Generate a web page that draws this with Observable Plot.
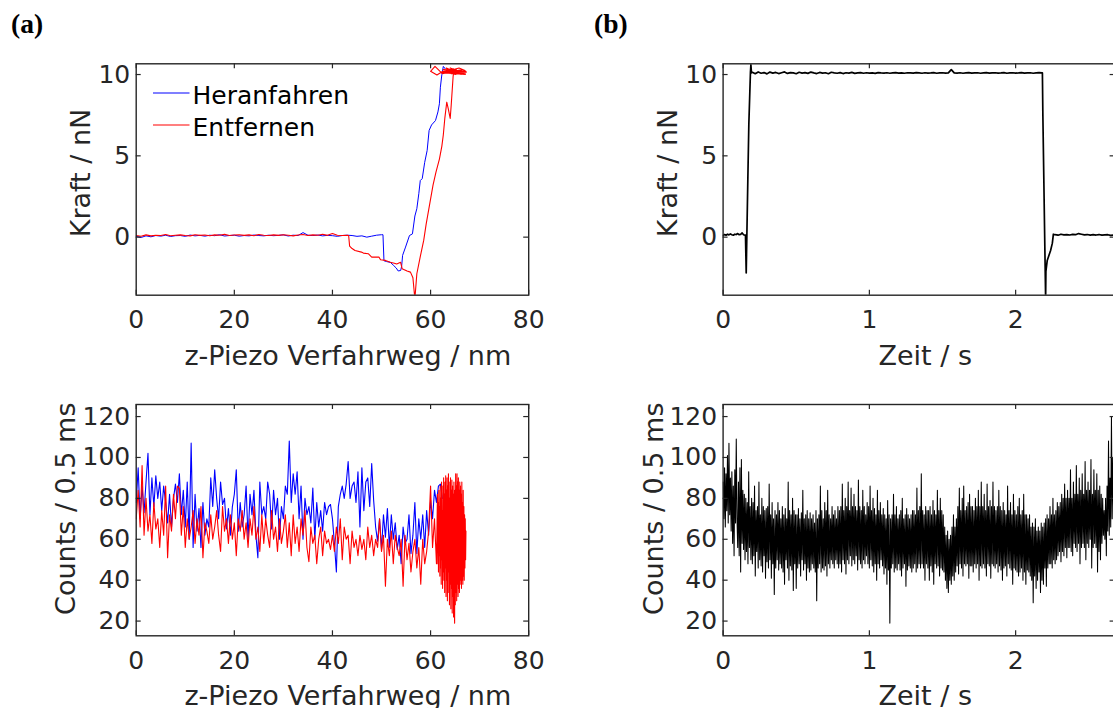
<!DOCTYPE html>
<html>
<head>
<meta charset="utf-8">
<script src="https://cdn.jsdelivr.net/npm/d3@7"></script>
<script src="https://cdn.jsdelivr.net/npm/@observablehq/plot@0.6"></script>
<style>
html, body { margin: 0; padding: 0; background: #fff; }
#fig { position: relative; width: 1113px; height: 708px; overflow: hidden; background: #fff; }
#fig svg { position: absolute; overflow: visible; }
</style>
</head>
<body>
<div id="fig"></div>
<script>
// ---------------- data ----------------
// tick values
const zTicks = [0, 20, 40, 60, 80];
const tTicks = [0, 1, 2];
const forceTicks = [0, 5, 10];
const countTicks = [20, 40, 60, 80, 100, 120];

// (a) top: force vs z-piezo — approach (blue): flat part at 1 nm steps from 0 nm
const approachFlatF = [0.05,-0.02,0.08,0.02,0.1,0.06,0.12,0.04,0.09,0.1,0.05,0.13,0.08,0.11,0.06,0.12,0.09,0.15,0.07,0.1,0.12,0.06,0.1,0.08,0.13,0.1,0.08,0.12,0.09,0.11,0.14,0.07,0.12,0.1,0.28,0.12,0.1,0.13,0.08,0.11,0.09,0.05,0.1,0.12,0.1,0.05,0.08,0.0,0.06,0.12,0.15];
const approachZ = [50.3,50.5,51.0,51.8,52.5,53.0,53.4,53.9,54.1,54.3,54.9,55.7,56.3,56.8,57.2,57.6,57.9,58.3,58.8,59.3,59.7,60.2,61.0,61.5,61.8,62.0,62.3,62.6,63.0];
const approachF = [0.15,-1.45,-1.5,-1.55,-1.75,-1.9,-2.08,-2.05,-1.8,-1.12,-0.61,0.1,0.2,1.3,1.75,2.67,3.48,3.6,4.6,5.33,6.56,6.9,7.17,7.7,8.2,9.22,10.0,10.5,10.35];

// retract (red): flat part at 1 nm steps from 0 nm
const retractFlatF = [0.1,0.06,0.14,0.08,0.12,0.1,0.16,0.09,0.12,0.14,0.1,0.08,0.15,0.11,0.13,0.09,0.14,0.12,0.17,0.1,0.13,0.15,0.11,0.14,0.09,0.16,0.12,0.1,0.14,0.11,0.15,0.12,0.08,0.13,0.16,0.1,0.14,0.12,0.18,0.11,0.22,0.12,0.1,0.12];
const retractZ = [43.3,43.5,44.0,44.6,45.9,46.3,47.3,48.0,49.5,49.8,50.8,51.8,52.6,53.1,53.9,54.2,55.2,55.9,56.4,56.8,57.2,57.9,58.6,59.1,59.8,60.5,61.1,61.8,62.3,62.6,62.9,63.3,63.6,64.0,64.2,64.6];
const retractF = [0.1,-0.55,-0.7,-0.82,-0.92,-0.98,-1.02,-1.23,-1.23,-1.39,-1.43,-1.54,-1.6,-1.65,-1.55,-1.94,-2.08,-2.15,-2.5,-3.8,-2.25,-1.2,-0.2,0.8,2.0,3.2,4.0,4.8,5.6,6.3,7.3,8.3,7.9,7.3,8.1,9.9];
const retractTopZ = [64.8,65.6,62.5,61.3,60.0,60.9,62.4,66.5,63.0,67.1,64.0,66.0,62.6,67.2,65.0,63.5,66.8,64.5,62.8,65.8,67.0,64.2,63.2,66.2,65.2,62.2,67.3,63.8,66.4,64.6,62.9,65.5,67.1];
const retractTopF = [10.3,10.1,10.2,9.97,10.2,10.5,10.05,10.3,10.1,10.0,10.4,10.15,10.3,10.2,10.0,10.35,10.1,10.2,10.15,10.4,10.25,10.05,10.4,10.0,10.3,10.1,10.15,10.25,10.05,10.35,10.2,10.1,10.05];

// (a) bottom: counts vs z-piezo, 0.4 nm steps from 0 nm
const approachCounts = [
78,95,70,86,73,88,102,72,90,76,
91,80,88,74,86,78,68,82,66,80,
87,78,92,72,84,66,88,60,107,56,
82,64,75,56,78,62,70,66,90,76,
94,80,70,88,77,80,65,75,62,76,
82,94,64,78,66,72,86,60,82,72,
84,62,51,88,72,76,70,88,82,65,
84,72,80,60,76,70,86,82,108,78,
92,82,93,70,86,60,80,72,76,68,
85,60,78,66,74,64,78,72,76,77,
70,58,44,76,82,86,80,87,98,80,
86,88,78,93,66,95,74,88,90,76,
97,79,66,59,70,55,72,61,75,56,
72,60,68,55,62,48,66,58,60,72,
53,62,78,53,70,60,72,56,74,62,
79,70,84,78,86,87,80];
const retractCounts = [
70,84,66,96,62,80,64,72,58,78,
65,70,56,74,62,86,51,72,64,82,
70,86,85,62,76,56,70,60,66,74,
58,70,62,76,51,68,64,58,72,60,
66,74,62,54,76,64,70,58,72,60,
68,52,70,64,74,60,68,56,70,62,
76,60,66,54,72,58,70,62,56,74,
60,66,54,70,58,64,72,56,68,52,
72,58,66,54,70,62,74,56,49,66,
58,62,48,60,66,52,64,58,60,55,
62,54,66,58,70,50,66,60,62,48,
64,56,60,52,62,55,60,50,66,56,
62,52,60,56,70,54,62,37,60,52,
64,48,62,56,52,60,37,62,50,58,
44,54,60,46,56,38,60,48,54,64,
86,56,70,48];
// dense retract cluster, 0.07 nm steps from 61.4 nm
const retractClusterCounts = [
82,48,78,44,84,52,76,42,86,46,80,38,88,50,74,36,86,44,90,40,
82,34,88,46,91,32,84,40,90,30,86,44,92,34,80,28,88,38,90,26,
84,36,89,24,86,32,82,22,88,30,19,84,28,92,34,86,30,92,38,88,
32,90,36,84,34,88,38,86,40,82,36,88,40,78,38,84,42,76,40,72,
46,70,50,64];

// (b) top: force vs time
const timeFlat1F = [0.1,0.16,0.12,0.18,0.14,0.2,0.15,0.12,0.18,0.16,0.22,0.15,0.17,0.26,0.15,0.12]; // 0.00–0.15 s, 0.01 s steps
const timeRiseT = [0.153,0.158,0.169,0.176,0.187,0.19,0.194];
const timeRiseF = [0.12,-2.2,3.48,6.97,10.15,10.6,10.1];
const timePlateauF = [ // from 0.2 s, 0.02 s steps
10.14,10.05,10.16,10.08,10.12,10.04,10.15,10.09,10.13,10.06,10.11,10.16,10.07,10.12,10.1,10.05,10.14,10.09,10.12,10.07,
10.15,10.1,10.06,10.13,10.09,10.11,10.05,10.14,10.1,10.08,10.12,10.06,10.11,10.09,10.13,10.07,10.1,10.12,10.08,10.11,
10.09,10.1,10.07,10.12,10.1,10.09,10.11,10.08,10.1,10.12,10.09,10.1,10.08,10.11,10.1,10.09,10.12,10.1,10.08,10.11,
10.09,10.1,10.12,10.08,10.1,10.11,10.09,10.1,10.3,10.1,10.09,10.11,10.08,10.1,10.12,10.09,10.1,10.11,10.08,10.1,
10.12,10.09,10.1,10.11,10.09,10.1,10.12,10.08,10.1,10.11,10.09,10.1,10.12,10.09,10.1,10.11,10.08,10.1,10.12,10.1];
const timeDropT = [2.183,2.186,2.205,2.207,2.216,2.239,2.251,2.258];
const timeDropF = [10.1,7.6,-3.8,-2.1,-1.43,-0.82,-0.37,0.18];
const timeFlat2F = [0.15,0.12,0.18,0.14,0.16,0.13,0.17,0.15,0.22,0.18,0.14,0.16,0.12,0.15,0.13,0.16,0.12,0.14,0.15,0.11,0.13]; // from 2.27 s, 0.02 s steps

// (b) bottom: counts vs time, 0.005 s steps from 0 s (one row = 0.1 s)
const timeCounts = [
88,70,95,66,92,74,101,68,107,72,90,64,93,58,86,52,94,68,109,70,
56,88,52,95,44,99,58,84,55,82,50,80,54,78,48,93,56,76,50,80,
48,78,52,86,42,74,54,76,46,88,50,72,47,80,44,76,52,74,41,75,
49,76,46,87,50,72,41,78,48,70,33,74,46,72,50,78,45,74,48,70,
46,76,44,72,38,75,50,70,46,88,40,74,47,72,45,80,35,74,48,72,
36,72,46,75,48,70,42,73,50,84,45,70,48,72,40,74,46,70,44,73,
45,70,48,72,46,68,44,74,30,70,46,72,48,86,44,74,46,70,45,78,
47,74,42,84,48,72,46,70,50,76,48,72,46,74,50,70,48,76,46,74,
48,76,44,87,50,74,48,80,43,76,50,88,48,74,52,85,47,76,50,82,
48,76,52,74,45,89,50,76,48,74,46,84,50,76,48,72,52,78,48,76,
46,86,50,74,47,80,44,75,48,72,40,84,48,74,46,78,50,72,47,75,
43,72,46,70,38,79,45,72,19,70,46,72,48,82,44,72,46,76,45,70,
48,72,45,74,42,80,46,70,48,72,37,75,45,72,47,70,46,72,44,74,
46,74,48,72,44,85,46,74,48,76,46,92,48,74,46,72,40,76,48,74,
46,74,40,76,47,72,44,79,38,74,48,72,46,84,47,74,42,80,46,74,
45,72,44,66,40,62,36,64,34,60,40,62,38,66,42,72,40,66,44,70,
47,76,43,85,48,74,46,80,42,86,48,74,47,76,48,78,41,82,47,76,
47,76,44,74,48,80,46,76,48,84,40,76,47,88,46,76,48,82,46,74,
42,87,48,76,47,79,41,76,48,88,47,76,46,74,48,76,44,84,47,76,
45,74,40,78,46,74,47,72,42,86,48,74,46,78,45,72,38,82,46,74,
45,72,44,76,42,80,44,72,46,74,40,82,44,72,38,72,45,70,44,72,
42,66,40,68,29,66,42,70,36,64,40,66,44,64,34,68,40,66,38,68,
46,70,37,72,46,70,48,76,48,72,46,80,50,72,48,74,50,78,52,76,
54,78,49,82,54,80,52,87,56,80,51,84,56,80,56,94,54,80,52,88,
58,82,56,96,54,82,58,90,48,84,56,92,58,82,56,98,50,84,58,88,
56,84,60,99,46,82,56,94,58,84,56,92,44,84,54,86,50,82,58,80,
62,74,60,80,52,86,64,108,62,90,66,120,70,100,72,118,76,104,80];

const seriesNames = ["Heranfahren", "Entfernen"];
const seriesColors = ["#0000ff", "#ff0000"];

// ---------------- build tables ----------------
const approachForce = [
  ...approachFlatF.map((f, i) => ({x: i, y: f})),
  ...approachZ.map((z, i) => ({x: z, y: approachF[i]}))
];
const retractForce = [
  ...retractFlatF.map((f, i) => ({x: i, y: f})),
  ...retractZ.map((z, i) => ({x: z, y: retractF[i]})),
  ...retractTopZ.map((z, i) => ({x: z, y: retractTopF[i]}))
];
const approachCountTable = approachCounts.map((c, i) => ({x: i * 0.4, y: c}));
const retractCountTable = [
  ...retractCounts.map((c, i) => ({x: i * 0.4, y: c})),
  ...retractClusterCounts.map((c, i) => ({x: 61.4 + i * 0.07, y: c}))
];
const timeForce = [
  ...timeFlat1F.map((f, i) => ({x: i * 0.01, y: f})),
  ...timeRiseT.map((t, i) => ({x: t, y: timeRiseF[i]})),
  ...timePlateauF.map((f, i) => ({x: 0.2 + i * 0.02, y: f})),
  ...timeDropT.map((t, i) => ({x: t, y: timeDropF[i]})),
  ...timeFlat2F.map((f, i) => ({x: 2.27 + i * 0.02, y: f}))
];
const timeCountTable = timeCounts.map((c, i) => ({x: i * 0.005, y: c}));

// ---------------- drawing ----------------
const fig = document.getElementById("fig");
const ink = "#262626";
const FONT = "DejaVu Sans, Liberation Sans, sans-serif";

function panel(o) {
  const W = o.width - o.ml - o.mr, H = o.height - o.mt - o.mb;
  const tk = {stroke: ink, strokeWidth: 1.2};
  const svg = Plot.plot({
    width: o.width, height: o.height,
    marginLeft: o.ml, marginRight: o.mr, marginTop: o.mt, marginBottom: o.mb,
    x: {domain: o.xDomain},
    y: {domain: o.yDomain},
    style: {fontFamily: FONT, fontSize: "25px", color: ink, background: "transparent", overflow: "visible"},
    marks: [
      ...o.lines,
      Plot.tickX(o.xTicks, {x: d => d, insetTop: H - 5, ...tk}),
      Plot.tickX(o.xTicks, {x: d => d, insetBottom: H - 5, ...tk}),
      Plot.tickY(o.yTicks, {y: d => d, insetRight: W - 5, ...tk}),
      Plot.tickY(o.yTicks, {y: d => d, insetLeft: W - 5, ...tk}),
      Plot.frame({stroke: ink, strokeWidth: 1.4}),
      Plot.axisX({ticks: o.xTicks, tickSize: 0, tickPadding: 15, label: null, tickFormat: d => String(d), fontSize: 25}),
      Plot.axisY({ticks: o.yTicks, tickSize: 0, tickPadding: 6, label: null, tickFormat: d => String(d), fontSize: 25}),
      Plot.text([o.xLabel], {text: d => d, frameAnchor: "bottom", textAnchor: "middle", lineAnchor: "middle",
        dx: o.xLabelDx, dy: 61, fontSize: 27, fill: ink}),
      Plot.text([o.yLabel], {text: d => d, frameAnchor: "left", textAnchor: "middle", lineAnchor: "middle",
        dx: o.yLabelDx, dy: o.yLabelDy, rotate: -90, fontSize: 27, fill: ink})
    ]
  });
  svg.style.left = o.left + "px";
  svg.style.top = o.top + "px";
  fig.appendChild(svg);
}

const forceDomain = [-3.57, 10.66];
const countDomain = [12.8, 125.9];
const topBox = {width: 560, height: 380, mt: 63.3, mb: 85.3};
const botBox = {width: 560, height: 328, mt: 24, mb: 72.7};
const leftBox = {ml: 135.7, mr: 31.8};
const rightBox = {ml: 162.6, mr: 5.4};

panel({left: 0, top: 0, ...topBox, ...leftBox,
  xDomain: [0, 80], yDomain: forceDomain, xTicks: zTicks, yTicks: forceTicks,
  xLabel: "z-Piezo Verfahrweg / nm", yLabel: "Kraft / nN", xLabelDx: 15.4, yLabelDx: -55, yLabelDy: -6.5,
  lines: [
    Plot.line(approachForce, {x: "x", y: "y", stroke: seriesColors[0], strokeWidth: 1, clip: true}),
    Plot.line(retractForce, {x: "x", y: "y", stroke: seriesColors[1], strokeWidth: 1.1, clip: true})
  ]});

panel({left: 0, top: 380, ...botBox, ...leftBox,
  xDomain: [0, 80], yDomain: countDomain, xTicks: zTicks, yTicks: countTicks,
  xLabel: "z-Piezo Verfahrweg / nm", yLabel: "Counts / 0.5 ms", xLabelDx: 15.4, yLabelDx: -69.5, yLabelDy: -11.4,
  lines: [
    Plot.line(approachCountTable, {x: "x", y: "y", stroke: seriesColors[0], strokeWidth: 1.1, clip: true}),
    Plot.line(retractCountTable, {x: "x", y: "y", stroke: seriesColors[1], strokeWidth: 1.1, clip: true})
  ]});

panel({left: 560, top: 0, ...topBox, ...rightBox,
  xDomain: [0, 2.68], yDomain: forceDomain, xTicks: tTicks, yTicks: forceTicks,
  xLabel: "Zeit / s", yLabel: "Kraft / nN", xLabelDx: 6.1, yLabelDx: -55, yLabelDy: -6.5,
  lines: [
    Plot.line(timeForce, {x: "x", y: "y", stroke: "#000", strokeWidth: 1.7, clip: true})
  ]});

panel({left: 560, top: 380, ...botBox, ...rightBox,
  xDomain: [0, 2.68], yDomain: countDomain, xTicks: tTicks, yTicks: countTicks,
  xLabel: "Zeit / s", yLabel: "Counts / 0.5 ms", xLabelDx: 6.1, yLabelDx: -69.2, yLabelDy: -11.4,
  lines: [
    Plot.line(timeCountTable, {x: "x", y: "y", stroke: "#000", strokeWidth: 1.05, clip: true})
  ]});

// overlay: legend and panel letters
const ov = d3.create("svg").attr("width", 1113).attr("height", 708)
  .style("left", "0px").style("top", "0px").style("pointer-events", "none");
const legendRows = [{y: 93}, {y: 125}];
seriesNames.forEach((name, i) => {
  const g = ov.append("g");
  g.append("line").attr("x1", 153).attr("x2", 189.5)
    .attr("y1", legendRows[i].y).attr("y2", legendRows[i].y)
    .attr("stroke", seriesColors[i]).attr("stroke-width", 1.2);
  g.append("text").attr("x", 192.5).attr("y", legendRows[i].y + 10.5)
    .attr("font-family", FONT).attr("font-size", 25).attr("fill", "#000").text(name);
});
[["(a)", 11], ["(b)", 594]].forEach(([t, x]) => {
  ov.append("text").attr("x", x).attr("y", 33)
    .attr("font-family", "Liberation Serif, DejaVu Serif, serif").attr("font-weight", "bold")
    .attr("font-size", 27.5).attr("fill", "#000").text(t);
});
fig.appendChild(ov.node());
</script>
</body>
</html>
